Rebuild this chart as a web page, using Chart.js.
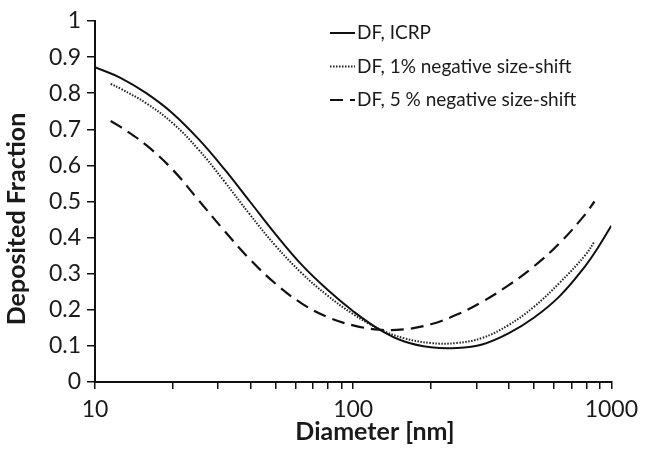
<!DOCTYPE html>
<html lang="en">
<head>
    <meta charset="UTF-8">
    <title>Deposited Fraction</title>
    <script src="https://cdn.jsdelivr.net/npm/chart.js"></script>
    <style>
        html, body { margin: 0; padding: 0; background: #fff; }
        #wrap { width: 645px; height: 449px; }
    </style>
</head>
<body>
    <div id="wrap"><canvas id="dfChart"></canvas></div>

    <script>
        // values (diameters roughly evenly spaced on the log axis)
        const icrpD = [10, 12.6, 15.8, 20, 25.1, 31.6, 39.8, 50.1, 63.1, 79.4, 100, 126, 158, 200, 251, 316, 398, 501, 631, 794, 891, 1000];
        const icrpDF = [0.872, 0.842, 0.800, 0.744, 0.674, 0.591, 0.500, 0.409, 0.325, 0.256, 0.196, 0.146, 0.112, 0.096, 0.094, 0.104, 0.134, 0.178, 0.238, 0.322, 0.374, 0.433];

        const shift1D = [11.5, 12.6, 15.8, 20, 25.1, 31.6, 39.8, 50.1, 63.1, 79.4, 100, 126, 158, 200, 251, 316, 398, 501, 631, 794, 860];
        const shift1DF = [0.826, 0.812, 0.772, 0.717, 0.645, 0.557, 0.464, 0.377, 0.302, 0.240, 0.188, 0.147, 0.121, 0.108, 0.108, 0.122, 0.157, 0.208, 0.275, 0.352, 0.389];

        const shift5D = [11.5, 12.6, 15.8, 20, 25.1, 31.6, 39.8, 50.1, 63.1, 79.4, 100, 126, 158, 200, 251, 316, 398, 501, 631, 794, 860];
        const shift5DF = [0.723, 0.706, 0.656, 0.588, 0.505, 0.420, 0.340, 0.272, 0.218, 0.180, 0.157, 0.145, 0.146, 0.160, 0.186, 0.222, 0.267, 0.320, 0.385, 0.465, 0.500];

        const seriesLabels = ['DF, ICRP', 'DF, 1% negative size-shift', 'DF, 5 % negative size-shift'];
        const xTicks = [10, 20, 30, 40, 50, 60, 70, 80, 90, 100, 200, 300, 400, 500, 600, 700, 800, 900, 1000];
        const xTickLabels = [10, 100, 1000];
        const xTitle = 'Diameter [nm]';
        const yTitle = 'Deposited Fraction';

        const toPoints = (xs, ys) => xs.map((x, i) => ({ x: x, y: ys[i] }));

        // vertical legend with short line samples, plus the two axis titles
        // (the titles in the figure sit a little off the axis centre)
        const chartText = {
            id: 'chartText',
            afterDraw(chart) {
                const ctx = chart.ctx;
                ctx.save();
                ctx.fillStyle = '#1a1a1a';
                ctx.textBaseline = 'middle';

                ctx.font = '19px Lato';
                chart.data.datasets.forEach((ds, i) => {
                    const y = 33 + i * 33.5;
                    ctx.strokeStyle = ds.borderColor;
                    ctx.lineWidth = ds.borderWidth;
                    ctx.setLineDash(ds.borderDash || []);
                    ctx.beginPath();
                    ctx.moveTo(330, y);
                    ctx.lineTo(355, y);
                    ctx.stroke();
                    ctx.setLineDash([]);
                    ctx.textAlign = 'left';
                    ctx.fillText(ds.label, 357, y);
                });

                ctx.font = 'bold 25px Lato';
                ctx.textAlign = 'center';
                ctx.fillText(xTitle, 375, 432);

                ctx.translate(17, 219);
                ctx.rotate(-Math.PI / 2);
                ctx.fillText(yTitle, 0, 0);
                ctx.restore();
            }
        };

        function initChart() {
            const ctx = document.getElementById('dfChart').getContext('2d');
            return new Chart(ctx, {
                type: 'line',
                data: {
                    datasets: [{
                        label: seriesLabels[0],
                        data: toPoints(icrpD, icrpDF),
                        borderColor: '#111',
                        borderWidth: 2,
                        borderDash: []
                    }, {
                        label: seriesLabels[1],
                        data: toPoints(shift1D, shift1DF),
                        borderColor: '#222',
                        borderWidth: 2,
                        borderDash: [1.5, 1.5]
                    }, {
                        label: seriesLabels[2],
                        data: toPoints(shift5D, shift5DF),
                        borderColor: '#111',
                        borderWidth: 2.2,
                        borderDash: [13, 7]
                    }]
                },
                options: {
                    responsive: true,
                    maintainAspectRatio: false,
                    animation: false,
                    layout: { padding: { top: 21, right: 28, left: 0, bottom: 0 } },
                    elements: {
                        point: { radius: 0 },
                        line: { tension: 0.4, fill: false }
                    },
                    plugins: {
                        legend: { display: false },
                        tooltip: { enabled: false }
                    },
                    scales: {
                        x: {
                            type: 'logarithmic',
                            min: 10,
                            max: 1000,
                            afterBuildTicks: (scale) => {
                                scale.ticks = xTicks.map(v => ({ value: v }));
                            },
                            afterFit: (scale) => { scale.height = 67; },
                            ticks: {
                                autoSkip: false,
                                maxRotation: 0,
                                color: '#1a1a1a',
                                font: { family: 'Lato', size: 23 },
                                padding: 7,
                                callback: (v) => xTickLabels.includes(v) ? String(v) : ''
                            },
                            grid: { drawOnChartArea: false, drawTicks: true, tickLength: 7, color: '#111', lineWidth: 1.5 },
                            border: { display: true, color: '#111', width: 2 }
                        },
                        y: {
                            min: 0,
                            max: 1,
                            afterFit: (scale) => { scale.width = 95; },
                            ticks: {
                                stepSize: 0.1,
                                color: '#1a1a1a',
                                font: { family: 'Lato', size: 23 },
                                padding: 6,
                                callback: (v) => String(Math.round(v * 10) / 10)
                            },
                            grid: { drawOnChartArea: false, drawTicks: true, tickLength: 8, color: '#111', lineWidth: 1.5 },
                            border: { display: true, color: '#111', width: 2 }
                        }
                    }
                },
                plugins: [chartText]
            });
        }

        initChart();
    </script>
</body>
</html>
